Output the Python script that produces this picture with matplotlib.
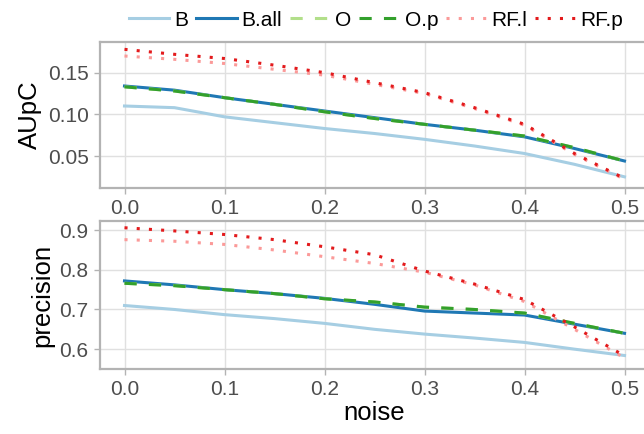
import matplotlib.pyplot as plt
from matplotlib.lines import Line2D

plt.rcParams['font.family'] = ['Liberation Sans', 'DejaVu Sans']

noise = [0.0, 0.05, 0.1, 0.15, 0.2, 0.25, 0.3, 0.35, 0.4, 0.45, 0.5]

# AUpC panel
aupc_b = [0.110, 0.108, 0.097, 0.090, 0.083, 0.077, 0.070, 0.062, 0.053, 0.040, 0.025]
aupc_ball = [0.134, 0.129, 0.120, 0.112, 0.104, 0.096, 0.088, 0.081, 0.073, 0.059, 0.044]
aupc_o = [0.133, 0.128, 0.120, 0.112, 0.103, 0.095, 0.088, 0.081, 0.074, 0.060, 0.044]
aupc_op = [0.133, 0.128, 0.120, 0.112, 0.103, 0.095, 0.088, 0.081, 0.074, 0.060, 0.044]
aupc_rfl = [0.170, 0.166, 0.161, 0.154, 0.147, 0.136, 0.125, 0.107, 0.087, 0.052, 0.022]
aupc_rfp = [0.178, 0.172, 0.167, 0.159, 0.150, 0.138, 0.126, 0.108, 0.088, 0.053, 0.023]

# precision panel
prec_b = [0.710, 0.700, 0.687, 0.677, 0.665, 0.650, 0.638, 0.628, 0.617, 0.600, 0.584]
prec_ball = [0.772, 0.762, 0.750, 0.740, 0.728, 0.713, 0.696, 0.691, 0.686, 0.663, 0.640]
prec_o = [0.766, 0.760, 0.750, 0.740, 0.727, 0.719, 0.706, 0.700, 0.691, 0.665, 0.640]
prec_op = [0.766, 0.760, 0.750, 0.740, 0.727, 0.719, 0.706, 0.700, 0.691, 0.665, 0.640]
prec_rfl = [0.876, 0.872, 0.864, 0.850, 0.833, 0.816, 0.794, 0.762, 0.720, 0.650, 0.578]
prec_rfp = [0.906, 0.898, 0.889, 0.876, 0.858, 0.838, 0.797, 0.764, 0.725, 0.656, 0.583]

labels = ['B', 'B.all', 'O', 'O.p', 'RF.l', 'RF.p']
colors = ['#a6cee3', '#1f78b4', '#b2df8a', '#33a02c', '#fb9a99', '#e31a1c']
styles = ['-', '-', (0, (4, 4)), (0, (4, 4)), (0, (1, 3)), (0, (1, 3))]

W, H = 644, 434
fig = plt.figure(figsize=(W / 100, H / 100), dpi=100)

def px_axes(left, top, right, bottom):
    # panel position given in pixels from the top-left corner
    return fig.add_axes([left / W, 1 - bottom / H, (right - left) / W, (bottom - top) / H])

ax1 = px_axes(99.5, 42, 649.5, 188)
ax2 = px_axes(99.5, 221, 649.5, 369)

grey = '#4d4d4d'
edge = '#b3b3b3'

def style_panel(ax, ylim, yticks, ylabel):
    ax.set_xlim(-0.025, 0.525)
    ax.set_ylim(*ylim)
    ax.set_xticks([0.0, 0.1, 0.2, 0.3, 0.4, 0.5])
    ax.set_xticklabels(['0.0', '0.1', '0.2', '0.3', '0.4', '0.5'])
    ax.set_yticks(yticks)
    ax.grid(True, color='#e0e0e0', linewidth=1.0)
    ax.set_axisbelow(True)
    for s in ax.spines.values():
        s.set_color(edge)
        s.set_linewidth(1.6)
    ax.tick_params(colors=edge, labelcolor=grey, labelsize=15, length=4.3, width=1.0, pad=3.5)
    ax.set_ylabel(ylabel, fontsize=18.5, labelpad=4)

series1 = [aupc_b, aupc_ball, aupc_o, aupc_op, aupc_rfl, aupc_rfp]
series2 = [prec_b, prec_ball, prec_o, prec_op, prec_rfl, prec_rfp]
for ax, series in ((ax1, series1), (ax2, series2)):
    for vals, c, ls in zip(series, colors, styles):
        ax.plot(noise, vals, color=c, linestyle=ls, linewidth=2.2)

style_panel(ax1, (0.0116, 0.1868), [0.05, 0.10, 0.15], 'AUpC')
ax1.set_yticklabels(['0.05', '0.10', '0.15'])
style_panel(ax2, (0.550, 0.923), [0.6, 0.7, 0.8, 0.9], 'precision')
ax2.set_xlabel('noise', fontsize=18.5, labelpad=1.8)

handles = [Line2D([], [], color=c, linestyle=ls, linewidth=2.2) for c, ls in zip(colors, styles)]
fig.legend(handles, labels, loc='center', bbox_to_anchor=(376 / W, 1 - 20 / H), ncol=6,
           frameon=False, fontsize=15, handlelength=1.95, handletextpad=0.25,
           columnspacing=0.35, borderpad=0)

fig.savefig('out.png', dpi=100)
